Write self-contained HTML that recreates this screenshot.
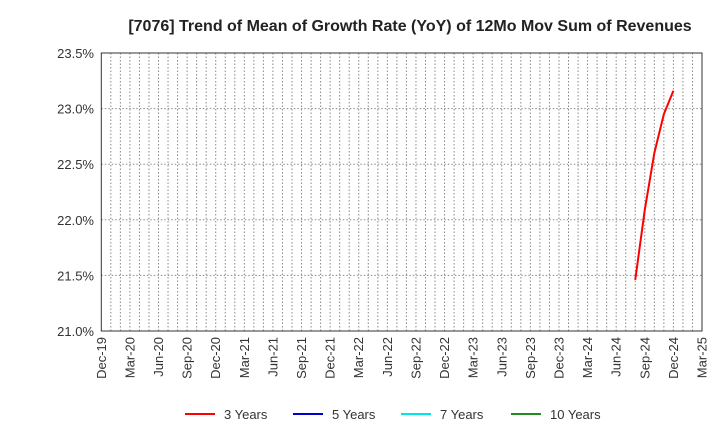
<!DOCTYPE html>
<html><head><meta charset="utf-8"><style>
body{margin:0;background:#fff;font-family:"Liberation Sans",sans-serif}
svg text{font-family:"Liberation Sans",sans-serif}
</style></head><body>
<svg id="chart" width="720" height="440" xmlns="http://www.w3.org/2000/svg">
<rect width="720" height="440" fill="#fff"/>
<text x="410" y="31" text-anchor="middle" font-size="16" font-weight="bold" fill="#222">[7076]  Trend of Mean of Growth Rate (YoY) of 12Mo Mov Sum of Revenues</text>
<g id="grid"></g><g id="axes"></g><g id="series"></g>
<rect x="101.3" y="53" width="600.7" height="278" fill="none" stroke="#333" stroke-width="1"/>
<g id="legend"></g>
</svg>
<script>
const yTicks=[21.0,21.5,22.0,22.5,23.0,23.5];
const xLabels=["Dec-19","Mar-20","Jun-20","Sep-20","Dec-20","Mar-21","Jun-21","Sep-21","Dec-21","Mar-22","Jun-22","Sep-22","Dec-22","Mar-23","Jun-23","Sep-23","Dec-23","Mar-24","Jun-24","Sep-24","Dec-24","Mar-25"];
const s3Months=[56,57,58,59,60];
const s3Values=[21.46,22.09,22.60,22.95,23.16];
const seriesNames=["3 Years","5 Years","7 Years","10 Years"];
const seriesColors=["#ff0000","#0000cc","#00e5e5","#228b22"];
const L=101.3,R=702,T=53,B=331,NM=63;
const X=m=>L+(R-L)*m/NM;
const Y=v=>B-(v-21)/(23.5-21)*(B-T);
const NS="http://www.w3.org/2000/svg";
function mk(tag,attrs,parent){const e=document.createElementNS(NS,tag);for(const k in attrs)e.setAttribute(k,attrs[k]);document.getElementById(parent).appendChild(e);return e;}
for(let m=1;m<NM;m++){
 const l=mk("line",{x1:X(m),x2:X(m),y1:T,y2:B,stroke:"#888","stroke-dasharray":"1.5,2","stroke-width":1},"grid");
 
 
}
yTicks.forEach(v=>{
 if(v>21&&v<23.5){const l=mk("line",{x1:L,x2:R,y1:Y(v),y2:Y(v),stroke:"#888","stroke-dasharray":"1.5,2"},"grid");
 
 }
 const t=mk("text",{x:94,y:Y(v)+5,"text-anchor":"end","font-size":13,fill:"#333"},"axes");
 t.textContent=v.toFixed(1)+"%";
 
 
});
xLabels.forEach((s,i)=>{
 const x=X(i*3);
 const t=mk("text",{x:0,y:0,transform:`translate(${x+4.5},337) rotate(-90)`,"text-anchor":"end","font-size":13,fill:"#333"},"axes");
 t.textContent=s;
 
 
});
const p=mk("polyline",{points:s3Months.map((m,i)=>X(m)+","+Y(s3Values[i])).join(" "),fill:"none",stroke:"#ff0000","stroke-width":2},"series");


const lx=[185,293,401,511];
seriesNames.forEach((n,i)=>{
 const l=mk("line",{x1:lx[i],x2:lx[i]+30,y1:414,y2:414,stroke:seriesColors[i],"stroke-width":2},"legend");
 
 
 const t=mk("text",{x:lx[i]+39,y:419,"font-size":13,fill:"#333"},"legend");
 t.textContent=n;
 
 
});
</script>
</body></html>
